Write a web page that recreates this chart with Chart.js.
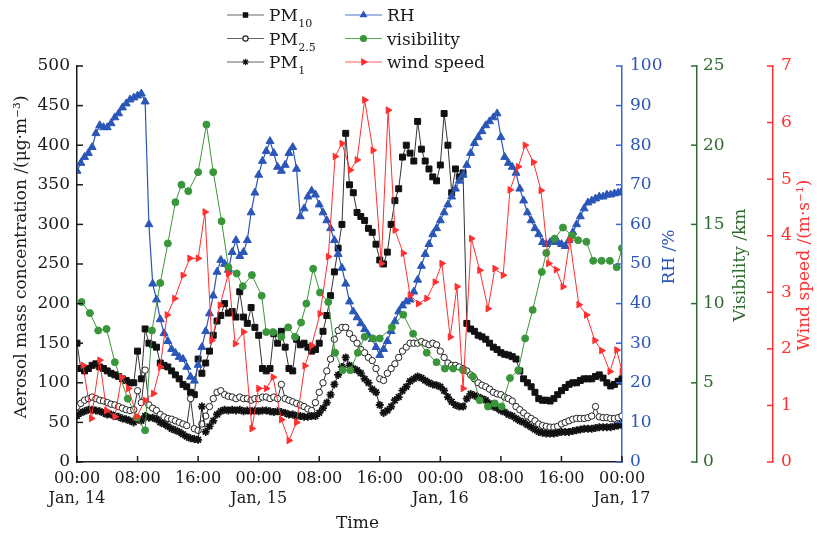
<!DOCTYPE html>
<html>
<head>
    <meta charset="utf-8">
    <title>Aerosol, RH, visibility and wind speed</title>
    <script src="https://cdn.jsdelivr.net/npm/chart.js"></script>
    <style>
        body { margin: 0; background: #fff; }
    </style>
</head>
<body>
    <canvas id="myChart" width="817" height="533"></canvas>

    <script>
        // hours counted from 00:00 Jan 14, PM and RH read every half hour
        const dayLabels = ['Jan, 14', 'Jan, 15', 'Jan, 16', 'Jan, 17'];
        const halfHour = 0.5;

        const pm10 = [
            150, 118, 115, 118, 122, 124, 120, 118, 115, 112, 110, 108, 105, 103, 100, 100,
            140, 105, 168, 150, 148, 145, 125, 122, 120, 115, 110, 105, 98, 95, 88, 85,
            130, 112, 125, 140, 160, 178, 185, 200, 188, 190, 183, 215, 183, 175, 195, 170,
            160, 118, 115, 118, 162, 150, 165, 145, 118, 115, 155, 148, 150, 145, 140, 142,
            150, 165, 185, 210, 240, 270, 300, 415, 350, 340, 315, 310, 305, 295, 290, 275,
            255, 250, 265, 300, 330, 345, 385, 400, 390, 380, 430, 395, 380, 370, 360, 355,
            375, 440, 400, 340, 370, 360, 365, 175, 168, 165, 160, 158, 155, 150, 145, 142,
            138, 136, 135, 133, 130, 115, 105, 100, 95, 88, 80, 78, 78, 77, 80, 85,
            90, 94, 98, 100, 100, 103, 105, 105, 105, 108, 110, 106, 100, 96, 98, 102,
            105
        ];
        const pm25 = [
            70, 74, 78, 80, 82, 80, 78, 77, 75, 73, 72, 70, 68, 66, 65, 66,
            90, 75, 116, 72, 68, 65, 60, 57, 55, 54, 52, 50, 48, 46, 80, 42,
            40, 48, 58, 70, 80, 88, 90, 85, 83, 82, 80, 82, 80, 80, 78, 80,
            80, 82, 82, 80, 82, 80, 98, 80, 78, 76, 74, 72, 70, 67, 65, 75,
            88, 100, 115, 130, 155, 166, 170, 170, 162, 156, 150, 142, 138, 132, 128, 118,
            105, 103, 112, 118, 124, 132, 140, 145, 150, 150, 150, 152, 150, 148, 150, 148,
            140, 132, 125, 122, 122, 120, 118, 115, 110, 105, 100, 97, 95, 92, 88, 86,
            85, 82, 80, 77, 70, 66, 62, 58, 55, 52, 48, 46, 45, 44, 44, 45,
            48, 50, 52, 54, 55, 55, 55, 56, 58, 70, 57, 56, 56, 55, 55, 56,
            58
        ];
        const pm1 = [
            58, 62, 64, 66, 66, 65, 64, 62, 60, 60, 58, 57, 55, 54, 52, 50,
            54, 52, 58, 56, 56, 54, 50, 48, 45, 42, 40, 38, 35, 32, 30, 29,
            28, 70, 38, 45, 52, 60, 64, 66, 65, 66, 65, 66, 64, 65, 64, 65,
            64, 65, 65, 64, 63, 64, 63, 62, 60, 60, 58, 58, 57, 57, 58, 58,
            62, 68, 75, 85, 98, 110, 120, 132, 122, 118, 116, 112, 105, 100, 92, 88,
            72, 62, 65, 70, 78, 82, 90, 95, 102, 105, 108, 106, 103, 100, 98, 97,
            95, 90, 82, 76, 72, 70, 70, 80, 86, 84, 82, 80, 78, 74, 70, 68,
            65, 63, 60, 58, 55, 52, 50, 47, 44, 41, 38, 37, 36, 36, 36, 37,
            38, 38, 38, 39, 40, 41, 42, 42, 42, 43, 44, 44, 44, 44, 45, 46,
            48
        ];
        const rh = [
            73.5, 75.5, 77, 78, 79.5, 83, 85, 84.5, 84.5, 85.5, 87, 88, 89.5, 90.5, 91.5, 92,
            92.5, 93, 91, 60, 45, 41, 36, 32.5, 30.5, 28.5, 27.5, 26.5, 26, 24, 21.5, 20.5,
            24.5, 29, 33, 37.5, 42, 48, 51, 50, 48.5, 53, 56, 52, 53, 56, 63, 68,
            72.5, 76, 78.5, 81, 78, 74.5, 73.5, 75, 78, 79.5, 74, 62, 64, 67, 68.5, 67.5,
            65, 63, 61, 59, 56, 52.5, 49, 45, 40.5, 38, 36.5, 35, 33.5, 32, 31, 29,
            27, 28.5, 30.5, 33, 35.5, 38, 39.5, 40.5, 41, 43, 46, 49.5, 52.5, 55, 57.5, 59,
            61, 63, 65, 67, 69, 71, 72.5, 75, 78, 80.5, 82, 83.5, 85, 86, 87, 88,
            82, 77, 75.5, 74.5, 73, 69, 66, 63, 61, 59, 57.5, 55.5, 55, 55.5, 56, 55.5,
            55, 54.5, 56, 58, 60, 62, 64, 65.5, 66, 66.5, 67, 67, 67.5, 67.5, 67.8, 68,
            68.5
        ];

        const visHours = [0.6, 1.7, 2.8, 3.9, 5, 6.7, 7.9, 9, 9.9, 11, 12, 13, 13.8, 14.7, 16, 17.1, 18, 19.1, 20, 21.1,
            21.9, 23.1, 24.4, 25, 25.9, 27, 27.9, 28.8, 29.6, 30.3, 31.2, 32.1, 33.2, 34.1, 35.1, 36.1, 37.1, 38, 39.1, 40,
            41.6, 43.1, 44.4, 46.2, 47.5, 48.6, 49.7, 51, 52.3, 53.2, 54.3, 55.2, 56.1, 57.2, 58.3, 59.2, 60.2, 61.4, 62, 63.1,
            64.2, 65.4, 66.2, 67.3, 68.2, 69.3, 70.4, 71.3, 72];
        const visibility = [10.1, 9.4, 8.3, 8.4, 6.3, 4.0, 2.8, 2.0, 8.3, 11.3, 13.8, 16.4, 17.5, 17.1, 18.3, 21.3, 18.3, 15.2, 12.3, 11.9,
            11.1, 11.8, 10.5, 8.2, 8.2, 7.9, 8.5, 7.9, 8.8, 10.0, 12.2, 10.7, 10.1, 6.9, 5.8, 5.8, 6.9, 7.9, 7.8, 7.8,
            8.5, 9.3, 8.1, 6.9, 6.3, 5.9, 5.9, 5.8, 5.4, 3.9, 3.5, 3.7, 3.5, 5.3, 5.8, 7.8, 9.6, 12.0, 13.2, 14.1,
            14.8, 14.3, 14.0, 13.9, 12.7, 12.7, 12.7, 12.3, 13.5];

        const windHours = [0.8, 1.9, 3.0, 3.9, 5.0, 5.9, 6.8, 7.9, 9.0, 10.1, 11.0, 11.9, 12.9, 14.0, 14.9, 16.0, 16.9, 17.8, 18.9, 20.0,
            20.9, 22.0, 23.1, 24.0, 25.0, 25.9, 27.0, 28.0, 29.0, 30.1, 31.0, 32.1, 33.2, 34.1, 35.0, 36.1, 37.0, 38.0, 39.1, 40.2,
            41.1, 42.0, 43.1, 44.0, 45.1, 46.2, 47.3, 48.2, 49.3, 50.2, 51.0, 52.1, 53.2, 54.3, 55.2, 56.3, 57.2, 58.3, 59.2, 60.3,
            61.3, 62.3, 63.3, 64.2, 65.1, 66.3, 67.3, 68.4, 69.3, 70.4, 71.3, 72.0];
        const windSpeed = [1.71, 0.77, 1.8, 0.91, 0.8, 1.5, 1.3, 0.8, 1.09, 1.21, 1.68, 2.6, 2.89, 3.3, 3.6, 3.6, 4.42, 2.15, 2.77, 3.33,
            2.09, 2.3, 0.59, 1.3, 1.3, 1.5, 0.75, 0.38, 0.7, 1.7, 2.06, 2.62, 3.63, 5.4, 5.63, 5.16, 5.34, 6.4, 5.51, 3.51,
            6.22, 4.1, 3.69, 2.95, 2.8, 2.89, 3.18, 3.51, 2.21, 3.1, 1.3, 3.95, 3.39, 2.71, 3.42, 3.3, 4.81, 5.22, 5.6, 5.3,
            4.8, 3.51, 3.4, 3.1, 3.92, 2.78, 2.6, 2.15, 1.97, 1.6, 1.98, 1.6];

        const BLUE = '#2a56b8', GREEN = '#3a963a', GREEN_AX = '#2f6a2f', RED = '#ff3030', INK = '#1a1a1a';
        const FONT = '"DejaVu Serif", serif';

        Chart.defaults.font.family = FONT;
        Chart.defaults.font.size = 16;
        Chart.defaults.color = INK;

        const dense = arr => arr.map((v, i) => ({ x: i * halfHour, y: v }));
        const sparse = (hrs, vals) => hrs.map((h, i) => ({ x: h, y: vals[i] }));

        function line(ctx, x1, y1, x2, y2) {
            ctx.beginPath();
            ctx.moveTo(x1, y1);
            ctx.lineTo(x2, y2);
            ctx.stroke();
        }

        function vtext(ctx, text, x, y, color, size) {
            ctx.save();
            ctx.translate(x, y);
            ctx.rotate(-Math.PI / 2);
            ctx.font = size + 'px ' + FONT;
            ctx.fillStyle = color;
            ctx.textAlign = 'center';
            ctx.textBaseline = 'middle';
            ctx.fillText(text, 0, 0);
            ctx.restore();
        }

        const legendItems = [
            ['PM', '10', 0, 0, 0], ['PM', '2.5', 1, 0, 1], ['PM', '1', 2, 0, 2],
            ['RH', '', 3, 1, 0], ['visibility', '', 4, 1, 1], ['wind speed', '', 5, 1, 2]
        ];

        // inward ticks, rotated axis titles and the two-column legend
        const decor = {
            id: 'decor',
            afterDraw(chart) {
                const { ctx, chartArea: a, scales } = chart;
                ctx.save();
                ctx.lineWidth = 1.5;
                ctx.strokeStyle = INK;
                scales.x.ticks.forEach(t => {
                    const px = scales.x.getPixelForValue(t.value);
                    line(ctx, px, a.bottom, px, a.bottom - 6);
                });
                scales.y.ticks.forEach(t => {
                    const py = scales.y.getPixelForValue(t.value);
                    line(ctx, a.left, py, a.left + 6, py);
                });
                ['yRH', 'yVis', 'yWind'].forEach(id => {
                    const s = scales[id];
                    ctx.strokeStyle = s.options.border.color;
                    s.ticks.forEach(t => {
                        const py = s.getPixelForValue(t.value);
                        line(ctx, s.left, py, s.left - 6, py);
                    });
                });

                vtext(ctx, 'Aerosol mass concentration /(μg·m⁻³)', 22, 257, INK, 17);
                vtext(ctx, 'RH /%', scales.yRH.left + 48, 257, BLUE, 17);
                vtext(ctx, 'Visibility /km', scales.yVis.left + 44, 265, GREEN_AX, 17);
                vtext(ctx, 'Wind speed /(m·s⁻¹)', scales.yWind.left + 32, 265, RED, 17);

                ctx.font = '17px ' + FONT;
                ctx.fillStyle = INK;
                ctx.textAlign = 'center';
                ctx.textBaseline = 'alphabetic';
                ctx.fillText('Time', (a.left + a.right) / 2 + 8, 528);

                const colX = [227, 345], rowY = [15, 38.5, 62];
                legendItems.forEach(([name, sub, di, col, row]) => {
                    const ds = chart.data.datasets[di];
                    const x = colX[col], y = rowY[row];
                    ctx.strokeStyle = ds.legendLine;
                    ctx.lineWidth = 1.2;
                    line(ctx, x, y, x + 37, y);
                    ctx.fillStyle = ds.pointBackgroundColor;
                    ctx.strokeStyle = ds.pointBorderColor;
                    Chart.helpers.drawPoint(ctx, {
                        pointStyle: ds.pointStyle, radius: ds.legendRadius,
                        rotation: ds.pointRotation || 0, borderWidth: ds.pointBorderWidth
                    }, x + 18.5, y);
                    ctx.fillStyle = INK;
                    ctx.textAlign = 'left';
                    ctx.font = '17px ' + FONT;
                    ctx.fillText(name, x + 42, y + 6);
                    if (sub) {
                        const w = ctx.measureText(name).width;
                        ctx.font = '11px ' + FONT;
                        ctx.fillText(sub, x + 42 + w + 0.5, y + 12);
                    }
                });
                ctx.restore();
            }
        };

        const noGrid = { display: false, drawTicks: false };

        new Chart(document.getElementById('myChart'), {
            type: 'line',
            data: {
                datasets: [
                    {
                        label: 'PM10', data: dense(pm10), yAxisID: 'y', order: 5,
                        borderColor: '#333', borderWidth: 1, legendLine: '#666', legendRadius: 3,
                        pointStyle: 'rect', pointRadius: 4.2, pointBorderWidth: 1,
                        pointBackgroundColor: '#111', pointBorderColor: '#111'
                    },
                    {
                        label: 'PM2.5', data: dense(pm25), yAxisID: 'y', order: 4,
                        borderColor: '#333', borderWidth: 1, legendLine: '#666', legendRadius: 2.6,
                        pointStyle: 'circle', pointRadius: 3.2, pointBorderWidth: 1,
                        pointBackgroundColor: '#fff', pointBorderColor: '#222'
                    },
                    {
                        label: 'PM1', data: dense(pm1), yAxisID: 'y', order: 3,
                        borderColor: '#222', borderWidth: 1, legendLine: '#666', legendRadius: 3.2,
                        pointStyle: 'star', pointRadius: 4, pointBorderWidth: 1.8,
                        pointBackgroundColor: '#111', pointBorderColor: '#111'
                    },
                    {
                        label: 'RH', data: dense(rh), yAxisID: 'yRH', order: 2,
                        borderColor: BLUE, borderWidth: 1.2, legendLine: '#4a72d0', legendRadius: 3.4,
                        pointStyle: 'triangle', pointRadius: 4.6, pointBorderWidth: 1,
                        pointBackgroundColor: BLUE, pointBorderColor: BLUE
                    },
                    {
                        label: 'visibility', data: sparse(visHours, visibility), yAxisID: 'yVis', order: 1,
                        borderColor: GREEN, borderWidth: 1, legendLine: '#55aa55', legendRadius: 3,
                        pointStyle: 'circle', pointRadius: 3.5, pointBorderWidth: 1,
                        pointBackgroundColor: GREEN, pointBorderColor: GREEN
                    },
                    {
                        label: 'wind speed', data: sparse(windHours, windSpeed), yAxisID: 'yWind', order: 0,
                        borderColor: RED, borderWidth: 1, legendLine: '#ff6060', legendRadius: 3.4,
                        pointStyle: 'triangle', pointRotation: 90, pointRadius: 3.8, pointBorderWidth: 1,
                        pointBackgroundColor: RED, pointBorderColor: RED
                    }
                ]
            },
            options: {
                responsive: false,
                animation: false,
                devicePixelRatio: 1,
                layout: { padding: { top: 66, bottom: 0, left: 0, right: 0 } },
                plugins: { legend: { display: false }, tooltip: { enabled: false } },
                elements: { line: { tension: 0 } },
                scales: {
                    x: {
                        type: 'linear', min: 0, max: 72,
                        grid: noGrid, border: { color: INK, width: 1.5 },
                        ticks: {
                            stepSize: 8, autoSkip: false, maxRotation: 0, padding: 7,
                            color: INK, font: { size: 16, lineHeight: 1.25 },
                            callback: v => {
                                const hh = String(v % 24).padStart(2, '0') + ':00';
                                return v % 24 === 0 ? [hh, dayLabels[v / 24]] : [hh];
                            }
                        },
                        afterFit: s => { s.height = 71; }
                    },
                    y: {
                        position: 'left', min: 0, max: 500,
                        grid: noGrid, border: { color: INK, width: 1.5 },
                        ticks: { stepSize: 50, padding: 7, color: INK, font: { size: 17 } },
                        afterFit: s => { s.width = 77; }
                    },
                    yRH: {
                        position: 'right', weight: 1, min: 0, max: 100,
                        grid: noGrid, border: { color: '#3d66d0', width: 1.5 },
                        ticks: { stepSize: 10, padding: 8, color: BLUE, font: { size: 17 } },
                        afterFit: s => { s.width = 75; }
                    },
                    yVis: {
                        position: 'right', weight: 2, min: 0, max: 25,
                        grid: noGrid, border: { color: GREEN_AX, width: 1.5 },
                        ticks: { stepSize: 5, padding: 6, color: GREEN_AX, font: { size: 17 } },
                        afterFit: s => { s.width = 76; }
                    },
                    yWind: {
                        position: 'right', weight: 3, min: 0, max: 7,
                        grid: noGrid, border: { color: RED, width: 1.5 },
                        ticks: { stepSize: 1, padding: 8, color: RED, font: { size: 17 } },
                        afterFit: s => { s.width = 44; }
                    }
                }
            },
            plugins: [decor]
        });
    </script>
</body>
</html>
